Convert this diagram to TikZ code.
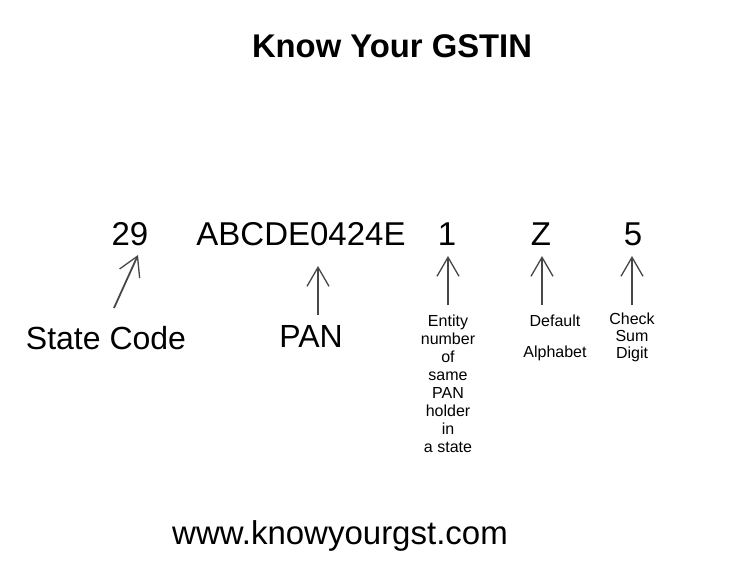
\documentclass[tikz,border=0pt]{standalone}
\usepackage{fontspec}
\setmainfont{Liberation Sans}
\usetikzlibrary{arrows.meta, positioning}

\begin{document}
\begin{tikzpicture}[
    x=1pt, y=-1pt,
    part/.style={inner sep=0pt, font=\fontsize{33}{36}\selectfont},
    caption/.style={inner sep=0pt, font=\fontsize{32}{36}\selectfont},
    note/.style={inner sep=0pt, align=center, font=\fontsize{16}{18}\selectfont},
    line/.style={draw, -{Straight Barb[length=19pt, width=22pt, line width=1.3pt]}, line width=1.8pt, black!72}
]
\useasboundingbox (0,0) rectangle (739,575);

\node [inner sep=0pt, font=\bfseries\fontsize{32.8}{36}\selectfont] (title) at (392,46) {Know Your GSTIN};

% the number
\node [part] (state) at (130,234) {29};
\node [part] (pan) at (301,234) {ABCDE0424E};
\node [part] (entity) at (447,234) {1};
\node [part] (alpha) at (541,234) {Z};
\node [part] (check) at (633,234) {5};

% what each part means
\node [caption] (statelbl) at (106,338) {State Code};
\node [caption] (panlbl) at (311,336) {PAN};
\node [note, anchor=north] (entitylbl) at (448,315) {Entity\\number\\of\\same\\PAN\\holder\\in\\a state};
\node [note] (alphalbl1) at (555,321) {Default};
\node [note] (alphalbl2) at (555,353) {Alphabet};
\node [note, anchor=north, font=\fontsize{16}{17}\selectfont] (checklbl) at (632,313) {Check\\Sum\\Digit};

\coordinate (statetail) at (114,308);
\coordinate (statetip) at (138,255);
\coordinate (pantail) at (318,315);
\coordinate (entitytail) at (448,305);
\coordinate (alphatail) at (542,305);
\coordinate (checktail) at (632,305);
\path [line] (statetail) -- (statetip);
\path [line] (pantail) -- (318,266);
\path [line] (entitytail) -- (448,256);
\path [line] (alphatail) -- (542,256);
\path [line] (checktail) -- (632,256);

\node [inner sep=0pt, font=\fontsize{33}{36}\selectfont] (url) at (340,536) {www.knowyourgst.com};
\end{tikzpicture}
\end{document}
